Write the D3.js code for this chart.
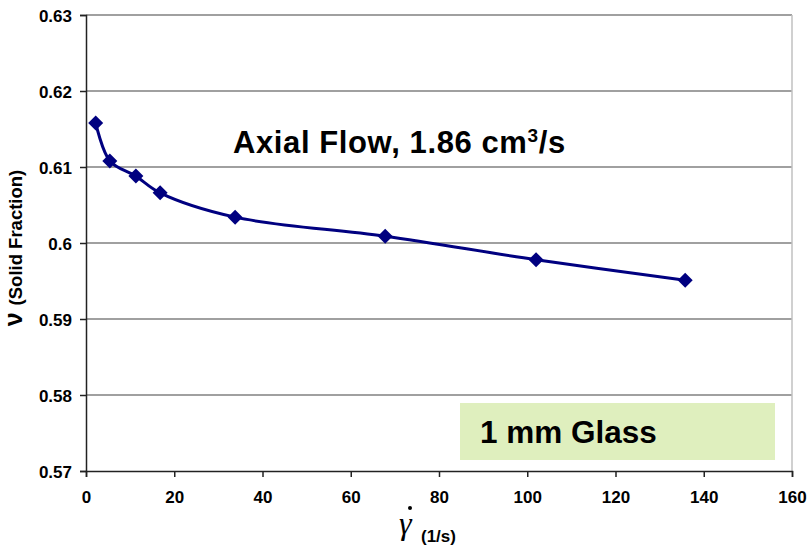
<!DOCTYPE html>
<html>
<head>
<meta charset="utf-8">
<script src="https://cdn.jsdelivr.net/npm/d3@7"></script>
<style>
  html, body { margin: 0; padding: 0; background: #fff; }
  svg { display: block; font-family: "Liberation Sans", Arial, sans-serif; }
</style>
</head>
<body>
<svg id="chart" width="809" height="547"></svg>
<script>
// Shear rate (1/s) and measured solid fraction
const shearRate = [2.2, 5.4, 11.3, 16.8, 33.8, 67.8, 102, 135.8];
const solidFraction = [0.6158, 0.6108, 0.6088, 0.6066, 0.6034, 0.6009, 0.5978, 0.5951];
const xTicks = [0, 20, 40, 60, 80, 100, 120, 140, 160];
const yTicks = [0.57, 0.58, 0.59, 0.60, 0.61, 0.62, 0.63];
const yTickLabels = ["0.57", "0.58", "0.59", "0.6", "0.61", "0.62", "0.63"];

const svg = d3.select("#chart");
const m = { left: 86, right: 792, top: 15, bottom: 471 };

const x = d3.scaleLinear().domain([0, 160]).range([m.left, m.right]);
const y = d3.scaleLinear().domain([0.57, 0.63]).range([m.bottom, m.top]);

// horizontal gridlines
svg.append("g").selectAll("line").data(yTicks.slice(1)).join("line")
  .attr("x1", m.left).attr("x2", m.right)
  .attr("y1", d => y(d)).attr("y2", d => y(d))
  .attr("stroke", "#808080").attr("stroke-width", 1.5);

// right frame edge
svg.append("line")
  .attr("x1", m.right).attr("x2", m.right)
  .attr("y1", m.top).attr("y2", m.bottom)
  .attr("stroke", "#c0c0c0").attr("stroke-width", 1.5);

// annotation box
svg.append("rect")
  .attr("x", 460).attr("y", 403).attr("width", 315).attr("height", 57)
  .attr("fill", "#dfefbe");
svg.append("text")
  .attr("x", 480).attr("y", 443)
  .attr("font-size", 31.5).attr("font-weight", "bold")
  .text("1 mm Glass");

// axes
const yAxis = d3.axisLeft(y).tickValues(yTicks)
  .tickFormat((d, i) => yTickLabels[i]).tickSize(6).tickPadding(8);
const xAxis = d3.axisBottom(x).tickValues(xTicks).tickSize(6).tickPadding(17);

const gy = svg.append("g").attr("transform", `translate(${m.left},0)`).call(yAxis);
const gx = svg.append("g").attr("transform", `translate(0,${m.bottom})`).call(xAxis);
[gy, gx].forEach(g => {
  g.select(".domain").attr("stroke", "#222").attr("stroke-width", 1.5);
  g.selectAll(".tick line").attr("stroke", "#222").attr("stroke-width", 1.5);
  g.selectAll(".tick text").attr("fill", "#000").attr("font-size", 17)
    .attr("font-weight", "bold").attr("font-family", "Liberation Sans, Arial, sans-serif");
});
gy.selectAll(".tick text").attr("dy", "0.36em");
gx.selectAll(".tick text").attr("dy", "0.5em");

// smoothed data curve
const pts = shearRate.map((d, i) => [x(d), y(solidFraction[i])]);
svg.append("path")
  .attr("d", d3.line().curve(d3.curveCatmullRom.alpha(0.5))(pts))
  .attr("fill", "none").attr("stroke", "#000080").attr("stroke-width", 3);

// diamond markers
svg.append("g").selectAll("path").data(pts).join("path")
  .attr("transform", d => `translate(${d[0]},${d[1]})`)
  .attr("d", "M0,-7.5L7.5,0L0,7.5L-7.5,0Z")
  .attr("fill", "#000080");

// chart title inside plot
const title = svg.append("text").attr("x", 233).attr("y", 153)
  .attr("font-size", 31).attr("font-weight", "bold").attr("letter-spacing", 0.6);
title.append("tspan").text("Axial Flow, 1.86 cm");
title.append("tspan").attr("font-size", 19).attr("dy", -11).text("3");
title.append("tspan").attr("dy", 11).text("/s");

// y axis title
const yl = svg.append("text")
  .attr("transform", "translate(22,248) rotate(-90)")
  .attr("text-anchor", "middle").attr("font-weight", "bold");
yl.append("tspan").attr("font-size", 25).text("ν ");
yl.append("tspan").attr("font-size", 18.5).text("(Solid Fraction)");

// x axis title: gamma-dot
const xl = svg.append("g");
xl.append("text").attr("x", 399).attr("y", 534)
  .attr("font-family", "Liberation Serif, Times New Roman, serif")
  .attr("font-style", "italic").attr("font-size", 32).text("γ");
xl.append("circle").attr("cx", 410).attr("cy", 508).attr("r", 2).attr("fill", "#000");
xl.append("text").attr("x", 421).attr("y", 542)
  .attr("font-size", 17).attr("font-weight", "bold").text("(1/s)");
</script>
</body>
</html>
